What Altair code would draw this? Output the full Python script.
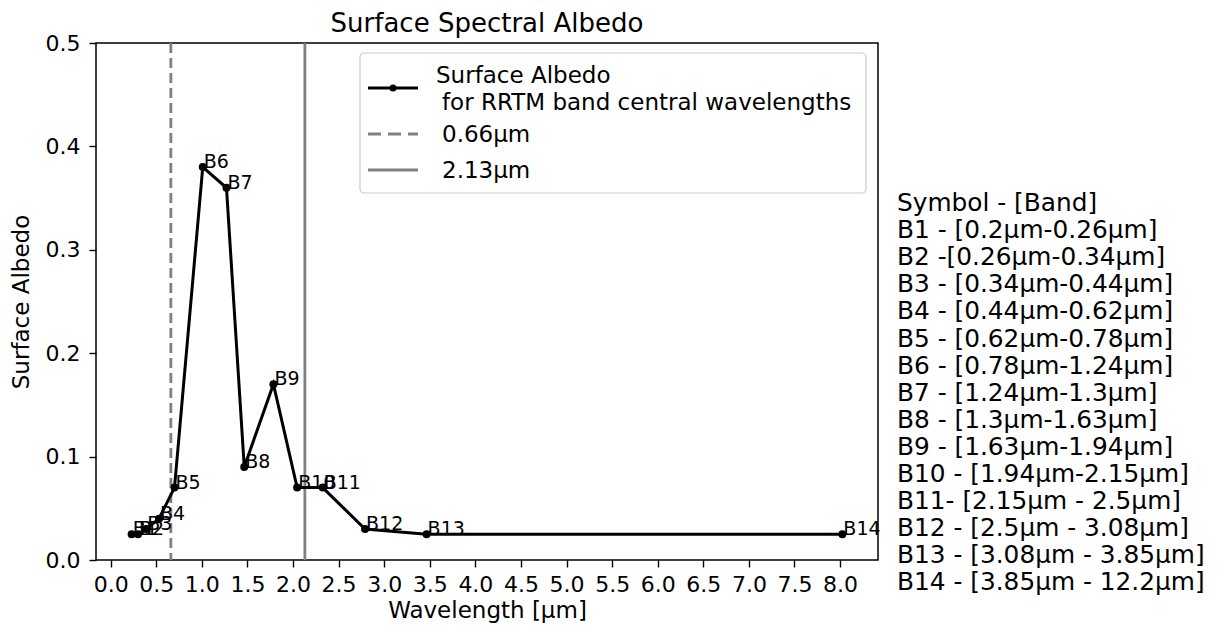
import altair as alt
import pandas as pd

bands = ["B1", "B2", "B3", "B4", "B5", "B6", "B7", "B8", "B9", "B10", "B11", "B12", "B13", "B14"]
wavelength = [0.23, 0.30, 0.39, 0.53, 0.70, 1.01, 1.27, 1.465, 1.785, 2.045, 2.325, 2.79, 3.465, 8.025]
albedo = [0.025, 0.025, 0.03, 0.04, 0.07, 0.38, 0.36, 0.09, 0.17, 0.07, 0.07, 0.03, 0.025, 0.025]

vline_x = [0.66, 2.13]
vline_name = ["0.66μm", "2.13μm"]
legend_main = ["Surface Albedo", " for RRTM band central wavelengths"]

band_text = [
    "Symbol - [Band]",
    "B1 - [0.2μm-0.26μm]",
    "B2 -[0.26μm-0.34μm]",
    "B3 - [0.34μm-0.44μm]",
    "B4 - [0.44μm-0.62μm]",
    "B5 - [0.62μm-0.78μm]",
    "B6 - [0.78μm-1.24μm]",
    "B7 - [1.24μm-1.3μm]",
    "B8 - [1.3μm-1.63μm]",
    "B9 - [1.63μm-1.94μm]",
    "B10 - [1.94μm-2.15μm]",
    "B11- [2.15μm - 2.5μm]",
    "B12 - [2.5μm - 3.08μm]",
    "B13 - [3.08μm - 3.85μm]",
    "B14 - [3.85μm - 12.2μm]",
]

x_ticks = [i * 0.5 for i in range(17)]
y_ticks = [0.0, 0.1, 0.2, 0.3, 0.4, 0.5]

FONT = "DejaVu Sans"
W, H = 782, 517

df = pd.DataFrame({"band": bands, "wl": wavelength, "alb": albedo})
vdf = pd.DataFrame({"x": vline_x, "name": vline_name})
one = pd.DataFrame({"a": [0]})

xscale = alt.Scale(domain=[-0.161, 8.416], nice=False, zero=False)
yscale = alt.Scale(domain=[0, 0.5], nice=False)

xaxis = alt.Axis(values=x_ticks, format=".1f", title="Wavelength [μm]", titlePadding=4, labelPadding=7)
yaxis = alt.Axis(values=y_ticks, format=".1f", title="Surface Albedo", titlePadding=12, labelPadding=9)

base = alt.Chart(df)

line = base.mark_line(color="black", strokeWidth=3).encode(
    x=alt.X("wl:Q", scale=xscale, axis=xaxis),
    y=alt.Y("alb:Q", scale=yscale, axis=yaxis),
)
pts = base.mark_circle(color="black", size=64, opacity=1).encode(x="wl:Q", y="alb:Q")
labels = base.mark_text(align="left", baseline="alphabetic", dx=1, dy=1, fontSize=19, font=FONT, color="black").encode(
    x="wl:Q", y="alb:Q", text="band:N"
)

vdash = alt.Chart(vdf[vdf["name"] == "0.66μm"]).mark_rule(color="#808080", strokeWidth=2.8, strokeDash=[10, 5]).encode(x="x:Q")
vsolid = alt.Chart(vdf[vdf["name"] == "2.13μm"]).mark_rule(color="#808080", strokeWidth=2.8).encode(x="x:Q")

# Legend (manual)
leg_box = alt.Chart(one).mark_rect(fill="white", fillOpacity=0.85, stroke="#cccccc", strokeWidth=1.2, cornerRadius=4).encode(
    x=alt.value(264), x2=alt.value(770), y=alt.value(10), y2=alt.value(150)
)
leg_line1 = alt.Chart(one).mark_rule(color="black", strokeWidth=3).encode(
    x=alt.value(272), x2=alt.value(322), y=alt.value(45)
)
leg_pt1 = alt.Chart(one).mark_circle(color="black", size=50, opacity=1).encode(x=alt.value(297), y=alt.value(45))
leg_line2 = alt.Chart(one).mark_rule(color="#808080", strokeWidth=2.8, strokeDash=[13, 7]).encode(
    x=alt.value(272), x2=alt.value(322), y=alt.value(91)
)
leg_line3 = alt.Chart(one).mark_rule(color="#808080", strokeWidth=2.8).encode(
    x=alt.value(272), x2=alt.value(322), y=alt.value(127)
)
leg_t1a = alt.Chart(one).mark_text(align="left", baseline="middle", fontSize=23, font=FONT, color="black", text=legend_main[0]).encode(
    x=alt.value(340), y=alt.value(33)
)
leg_t1b = alt.Chart(one).mark_text(align="left", baseline="middle", fontSize=23, font=FONT, color="black", text=legend_main[1].strip()).encode(
    x=alt.value(346), y=alt.value(60)
)
leg_t2 = alt.Chart(one).mark_text(align="left", baseline="middle", fontSize=23, font=FONT, color="black", text=vline_name[0]).encode(
    x=alt.value(346), y=alt.value(92)
)
leg_t3 = alt.Chart(one).mark_text(align="left", baseline="middle", fontSize=23, font=FONT, color="black", text=vline_name[1]).encode(
    x=alt.value(346), y=alt.value(128)
)

side = alt.Chart(one).mark_text(
    align="left", baseline="middle", fontSize=24.8, font=FONT, color="black", lineHeight=27.1, text=band_text
).encode(x=alt.value(801), y=alt.value(161))

chart = alt.layer(
    vdash, vsolid, line, pts, labels,
    leg_box, leg_line1, leg_pt1, leg_line2, leg_line3, leg_t1a, leg_t1b, leg_t2, leg_t3,
    side,
).properties(
    width=W, height=H,
    title=alt.TitleParams("Surface Spectral Albedo", fontSize=26, font=FONT, fontWeight="normal", offset=-5, color="black"),
    autosize=alt.AutoSizeParams(type="none"),
    padding={"left": 88, "top": 35, "right": 339, "bottom": 66},
).configure_view(
    stroke="black", strokeWidth=1.5
).configure_axis(
    grid=False, domain=False, labelFont=FONT, labelFontSize=22, labelColor="black",
    titleFont=FONT, titleFontSize=23, titleFontWeight="normal", titleColor="black",
    tickColor="black", tickSize=7, tickWidth=1.4,
)

chart.save("out.html", embed_options={"renderer": "svg", "actions": False})
